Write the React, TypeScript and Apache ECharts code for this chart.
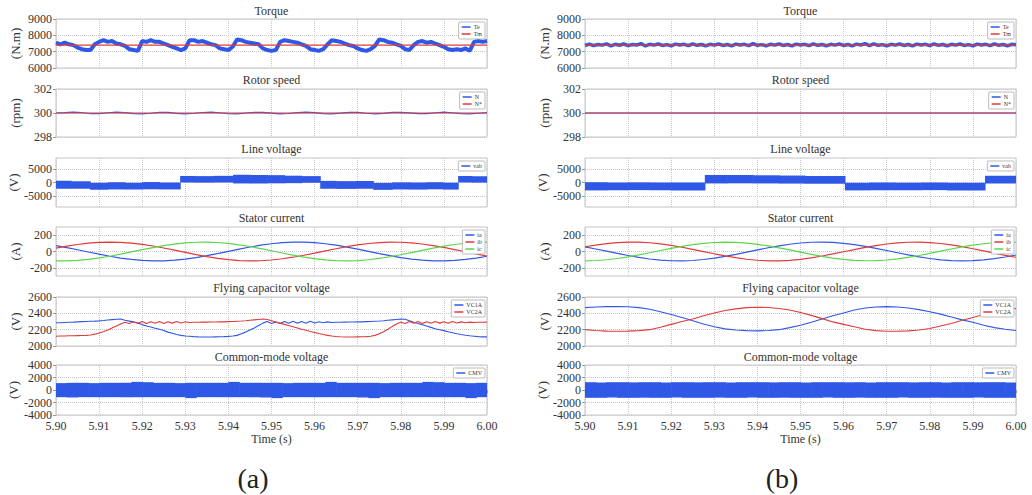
import React, { useEffect, useRef } from "react";
import * as echarts from "echarts";

const FONT = "Liberation Serif, Times New Roman, serif";
const BLUE = "#2f58e6";
const RED = "#e03a3a";
const GREEN = "#5ad64a";
const TEXT = "#333";

const T_START = 5.9;
const T_END = 6.0;

// ---- Row definitions ----
const rowTitles = ["Torque", "Rotor speed", "Line voltage", "Stator current", "Flying capacitor voltage", "Common-mode voltage"];
const rowUnits = ["(N.m)", "(rpm)", "(V)", "(A)", "(V)", "(V)"];
const rowMin = [6000, 298, -9000, -300, 2000, -4000];
const rowMax = [9000, 302, 9000, 300, 2600, 4000];
const rowTicks = [
  [6000, 7000, 8000, 9000],
  [298, 300, 302],
  [-5000, 0, 5000],
  [-200, 0, 200],
  [2000, 2200, 2400, 2600],
  [-4000, -2000, 0, 2000, 4000],
];
const rowLegends = [["Te", "Tm"], ["N", "N*"], ["vab"], ["ia", "ib", "ic"], ["VC1A", "VC2A"], ["CMV"]];

// ---- (a) data ----
const torqueA_Te = [
  7550, 7450, 7550, 7450, 7400, 7250, 7150, 7100, 7100, 7450,
  7600, 7700, 7600, 7650, 7500, 7450, 7350, 7150, 7100, 7050,
  7650, 7600, 7700, 7600, 7600, 7500, 7400, 7300, 7200, 7100,
  7200, 7700, 7700, 7600, 7650, 7550, 7450, 7400, 7200, 7150,
  7100, 7300, 7750, 7700, 7600, 7550, 7500, 7450, 7200, 7100,
  7050, 7100, 7600, 7700, 7650, 7600, 7550, 7450, 7350, 7150,
  7100, 7050, 7150, 7450, 7700, 7650, 7600, 7500, 7400, 7350,
  7200, 7100, 7050, 7150, 7350, 7750, 7700, 7600, 7550, 7450,
  7350, 7150, 7100, 7400, 7600, 7650, 7550, 7600, 7500, 7400,
  7300, 7150, 7100, 7150, 7100, 7200, 7050, 7600, 7650, 7600,
  7650,
];
const torqueA_Tm = [7400, 7400];
const speedA_N = [
  300.0, 300.03, 300.07, 300.04, 299.94, 299.95, 300.02, 300.07, 300.03, 299.94,
  299.93, 299.98, 300.05, 300.05, 299.97, 299.93, 299.98, 300.04, 300.07, 300.02,
  299.95, 299.93, 300.0, 300.06, 300.06, 299.99, 299.93, 299.96, 300.03, 300.07,
  300.03, 299.95, 299.93, 299.99, 300.06, 300.05, 299.98, 299.93, 299.97, 300.05,
  300.06, 300.01, 299.94, 299.94, 300.02, 300.07, 300.02, 299.95, 299.93, 299.98,
  300.03,
];
const speedA_Nref = [300, 300];
const vabA_edges = [5.9, 5.9035, 5.9079, 5.912, 5.916, 5.92, 5.924, 5.9288, 5.932, 5.9365, 5.9411, 5.945, 5.949, 5.953, 5.957, 5.9613, 5.965, 5.9695, 5.9736, 5.978, 5.982, 5.986, 5.9898, 5.9933, 5.9965, 6.0];
const vabA_hi = [600, 500, -100, 100, -50, 150, 0, 2400, 2350, 2450, 2850, 2800, 2700, 2500, 2350, 600, 500, 550, -150, 50, 0, 100, -50, 2400, 2300];
const vabA_lo = [-2300, -2250, -2650, -2550, -2600, -2500, -2550, 0, -50, 0, -350, -400, -300, -250, -100, -2300, -2350, -2300, -2700, -2550, -2600, -2500, -2600, 0, -50];
const iaA = [71, 47, 21, -6, -33, -58, -80, -97, -109, -115, -114, -106, -93, -74, -51, -25, 2, 29, 55, 77, 95, 108, 114, 114, 108, 95, 77, 54, 29, 2, -25, -51, -74, -93, -106, -114, -115, -109, -97, -80, -58];
const ibA = [42, 66, 86, 102, 112, 115, 112, 102, 87, 67, 43, 16, -11, -38, -63, -84, -100, -111, -115, -113, -104, -89, -70, -46, -20, 7, 34, 59, 81, 98, 109, 115, 113, 106, 92, 73, 50, 24, -3, -30, -56];
const icA = [-114, -115, -109, -97, -79, -58, -32, -5, 22, 48, 71, 91, 105, 113, 115, 110, 99, 82, 61, 36, 9, -18, -44, -68, -88, -103, -112, -115, -111, -101, -85, -64, -40, -13, 14, 41, 65, 86, 101, 111, 115];
const vc1A_A = [
  2285, 2285, 2288, 2290, 2292, 2295, 2298, 2300, 2303, 2305,
  2308, 2312, 2318, 2323, 2328, 2330, 2315, 2305, 2295, 2280,
  2262, 2245, 2232, 2218, 2205, 2190, 2170, 2155, 2140, 2130,
  2122, 2120, 2115, 2112, 2110, 2110, 2110, 2112, 2113, 2115,
  2118, 2122, 2130, 2150, 2170, 2195, 2220, 2250, 2280, 2300,
  2275, 2295, 2275, 2300, 2278, 2302, 2280, 2300, 2278, 2302,
  2282, 2298, 2285, 2295, 2288, 2290, 2290, 2292, 2293, 2294,
  2295, 2296, 2298, 2300, 2303, 2306, 2310, 2315, 2320, 2325,
  2330, 2328, 2310, 2290, 2275, 2260, 2245, 2228, 2212, 2200,
  2188, 2175, 2162, 2150, 2140, 2132, 2125, 2120, 2115, 2112,
  2112,
];
const vc2A_A = [
  2120, 2122, 2123, 2125, 2125, 2127, 2128, 2130, 2135, 2145,
  2160, 2175, 2195, 2220, 2245, 2268, 2290, 2275, 2298, 2278,
  2300, 2275, 2298, 2278, 2300, 2275, 2298, 2280, 2300, 2282,
  2296, 2288, 2290, 2290, 2292, 2292, 2293, 2294, 2295, 2296,
  2298, 2300, 2303, 2306, 2310, 2315, 2320, 2325, 2330, 2325,
  2310, 2295, 2280, 2265, 2250, 2235, 2220, 2205, 2192, 2178,
  2165, 2152, 2140, 2130, 2122, 2117, 2113, 2110, 2110, 2110,
  2112, 2113, 2115, 2120, 2130, 2150, 2175, 2205, 2240, 2270,
  2290, 2275, 2300, 2278, 2300, 2276, 2298, 2278, 2300, 2280,
  2298, 2278, 2300, 2282, 2295, 2285, 2292, 2288, 2290, 2290,
  2292,
];
const cmvA_hi = [1100, 1150, 1150, 1100, 1150, 1150, 1150, 1300, 1250, 1150, 1150, 1100, 1150, 1150, 1150, 1150, 1300, 1150, 1150, 1150, 1150, 1100, 1150, 1150, 1150, 1300, 1150, 1150, 1150, 1150, 1100, 1150, 1150, 1150, 1300, 1250, 1150, 1150, 1100, 1150];
const cmvA_lo = [-1150, -1200, -1150, -1150, -1150, -1150, -1150, -1150, -1150, -1150, -1150, -1150, -1300, -1150, -1150, -1150, -1150, -1150, -1150, -1200, -1300, -1150, -1150, -1150, -1150, -1150, -1150, -1150, -1200, -1300, -1150, -1150, -1150, -1150, -1150, -1150, -1150, -1150, -1300, -1150];

// ---- (b) data ----
const torqueB_Te = [
  7380, 7460, 7370, 7440, 7400, 7480, 7360, 7450, 7390, 7470,
  7370, 7440, 7410, 7490, 7350, 7450, 7400, 7470, 7380, 7430,
  7360, 7460, 7410, 7450, 7370, 7480, 7390, 7440, 7360, 7450,
  7400, 7470, 7380, 7440, 7350, 7460, 7410, 7450, 7370, 7490,
  7390, 7430, 7360, 7450, 7400, 7470, 7380, 7440, 7350, 7460,
  7410, 7450, 7370, 7480, 7390, 7440, 7360, 7450, 7400, 7470,
  7380, 7440, 7350, 7460, 7410, 7490, 7370, 7480, 7390, 7430,
  7360, 7450, 7400, 7470, 7380, 7440, 7350, 7460, 7410, 7450,
  7370, 7480, 7390, 7440, 7360, 7450, 7400, 7470, 7380, 7430,
  7350, 7460, 7410, 7450, 7370, 7480, 7390, 7440, 7360, 7450,
  7420,
];
const torqueB_Tm = [7400, 7400];
const speedB_N = [300, 300];
const speedB_Nref = [300, 300];
const vabB_edges = [5.9, 5.905, 5.91, 5.915, 5.92, 5.9278, 5.933, 5.939, 5.945, 5.951, 5.9603, 5.966, 5.972, 5.978, 5.984, 5.9928, 6.0];
const vabB_hi = [100, 0, 50, 0, 0, 2750, 2750, 2650, 2550, 2350, -100, 0, -50, 0, -50, 2500];
const vabB_lo = [-2900, -2850, -2800, -2850, -2900, -350, -300, -350, -400, -450, -2900, -2850, -2850, -2800, -2900, -350];
const iaB = [56, 31, 4, -23, -49, -72, -92, -105, -113, -115, -110, -98, -82, -60, -35, -8, 19, 46, 69, 89, 104, 113, 115, 111, 100, 84, 63, 39, 12, -15, -42, -66, -86, -102, -112, -115, -112, -102, -87, -67, -43];
const ibB = [58, 79, 97, 109, 115, 114, 107, 93, 75, 52, 26, -1, -28, -54, -76, -95, -107, -114, -114, -108, -96, -78, -55, -30, -3, 24, 50, 73, 92, 106, 113, 115, 109, 98, 81, 59, 34, 7, -20, -47, -70];
const icB = [-114, -110, -101, -86, -66, -42, -15, 12, 38, 63, 84, 99, 110, 114, 111, 103, 88, 68, 45, 19, -8, -35, -60, -81, -97, -108, -113, -112, -104, -91, -71, -49, -23, 4, 31, 56, 78, 95, 107, 114, 113];
const vc1A_B = [2470, 2478, 2482, 2484, 2480, 2470, 2450, 2420, 2385, 2350, 2310, 2270, 2235, 2210, 2195, 2188, 2185, 2190, 2200, 2225, 2255, 2290, 2330, 2370, 2405, 2440, 2465, 2478, 2482, 2478, 2465, 2445, 2420, 2390, 2355, 2320, 2290, 2255, 2225, 2205, 2190];
const vc2A_B = [2200, 2190, 2182, 2180, 2182, 2188, 2200, 2230, 2265, 2300, 2330, 2370, 2405, 2435, 2455, 2470, 2475, 2472, 2460, 2440, 2410, 2375, 2335, 2295, 2265, 2235, 2205, 2188, 2180, 2180, 2185, 2195, 2215, 2245, 2275, 2315, 2350, 2385, 2415, 2440, 2460];
const cmvB_hi = [1250, 1200, 1250, 1250, 1220, 1250, 1250, 1200, 1250, 1250, 1230, 1250, 1250, 1200, 1250, 1250, 1250, 1220, 1250, 1250, 1200, 1250, 1250, 1250, 1230, 1250, 1200, 1250, 1250, 1250, 1220, 1250, 1250, 1200, 1250, 1250, 1230, 1250, 1250, 1200];
const cmvB_lo = [-1250, -1250, -1200, -1250, -1250, -1230, -1250, -1250, -1200, -1250, -1250, -1250, -1220, -1250, -1250, -1200, -1250, -1250, -1230, -1250, -1250, -1250, -1200, -1250, -1250, -1220, -1250, -1250, -1250, -1200, -1250, -1250, -1230, -1250, -1250, -1250, -1200, -1250, -1250, -1250];

// ---- helpers ----
const timed = (vals: number[]) =>
  vals.map((v, i) => [+(T_START + ((T_END - T_START) * i) / (vals.length - 1)).toFixed(6), v]);
const regularEdges = (n: number) =>
  Array.from({ length: n + 1 }, (_, i) => +(T_START + ((T_END - T_START) * i) / n).toFixed(6));
const bandRows = (edges: number[], lo: number[], hi: number[]) =>
  lo.map((l, i) => [edges[i], edges[i + 1], l, hi[i]]);

const COLS = [
  { left: 56, width: 431, titleX: 271.5, tag: "(a)", tagX: 253 },
  { left: 585, width: 431, titleX: 800.5, tag: "(b)", tagX: 782 },
];
const ROW_TOP = [19, 89, 158, 227, 297, 365];
const ROW_H = [49, 48, 49, 49, 49, 50];
const TITLE_TOP = [5, 74, 143, 212, 282, 351];

function lineSeries(name: string, g: number, data: number[][], color: string, width: number) {
  return {
    type: "line",
    name,
    xAxisIndex: g,
    yAxisIndex: g,
    data,
    symbol: "none",
    showSymbol: false,
    silent: true,
    lineStyle: { color, width },
    itemStyle: { color },
    clip: true,
  };
}

function bandSeries(name: string, g: number, data: number[][], color: string) {
  return {
    type: "custom",
    name,
    xAxisIndex: g,
    yAxisIndex: g,
    data,
    silent: true,
    clip: true,
    encode: { x: [0, 1], y: [2, 3] },
    itemStyle: { color },
    renderItem: (params: any, api: any) => {
      const p0 = api.coord([api.value(0), api.value(3)]);
      const p1 = api.coord([api.value(1), api.value(2)]);
      return {
        type: "rect",
        shape: { x: p0[0], y: p0[1], width: p1[0] - p0[0] + 0.6, height: p1[1] - p0[1] },
        style: { fill: api.visual("color") },
      };
    },
  };
}

function buildOption() {
  const grids: any[] = [];
  const xAxes: any[] = [];
  const yAxes: any[] = [];
  const titles: any[] = [];
  const legends: any[] = [];
  COLS.forEach((c, ci) => {
    for (let r = 0; r < 6; r++) {
      const g = ci * 6 + r;
      grids.push({
        left: c.left,
        width: c.width,
        top: ROW_TOP[r],
        height: ROW_H[r],
        show: true,
        borderColor: "#c4c4c4",
        borderWidth: 1,
        backgroundColor: "#fff",
        containLabel: false,
      });
      const bottom = r === 5;
      xAxes.push({
        type: "value",
        gridIndex: g,
        min: T_START,
        max: T_END,
        interval: 0.01,
        axisLine: { show: false },
        axisTick: { show: bottom, length: 3, lineStyle: { color: "#999" } },
        axisLabel: {
          show: bottom,
          formatter: (v: number) => v.toFixed(2),
          fontSize: 12,
          fontFamily: FONT,
          color: TEXT,
          margin: 5,
        },
        splitLine: { show: true, lineStyle: { type: "dotted", color: "#c8c8c8" } },
        name: bottom ? "Time (s)" : "",
        nameLocation: "middle",
        nameGap: 18,
        nameTextStyle: { fontSize: 12, fontFamily: FONT, color: TEXT },
      });
      yAxes.push({
        type: "value",
        gridIndex: g,
        min: rowMin[r],
        max: rowMax[r],
        axisLine: { show: false },
        axisTick: { show: true, length: 3, customValues: rowTicks[r], lineStyle: { color: "#999" } },
        axisLabel: {
          customValues: rowTicks[r],
          formatter: (v: number) => String(v),
          fontSize: 12,
          fontFamily: FONT,
          color: TEXT,
          margin: 4,
        },
        splitLine: { show: true, lineStyle: { type: "dotted", color: "#c8c8c8" } },
        name: rowUnits[r],
        nameLocation: "middle",
        nameGap: 34,
        nameTextStyle: { fontSize: 13, fontFamily: FONT, color: TEXT },
      });
      titles.push({
        text: rowTitles[r],
        left: c.titleX,
        top: TITLE_TOP[r],
        textAlign: "center",
        padding: 0,
        textStyle: { fontSize: 12, fontWeight: "normal", fontFamily: FONT, color: TEXT },
      });
      legends.push({
        data: rowLegends[r],
        orient: "vertical",
        right: 1032 - (c.left + c.width) + 2,
        top: ROW_TOP[r] + 3,
        icon: "rect",
        itemWidth: 9,
        itemHeight: 1.5,
        itemGap: 1,
        padding: [2, 3, 2, 3],
        selectedMode: false,
        borderColor: "#aaa",
        borderWidth: 0.8,
        borderRadius: 1,
        backgroundColor: "#fff",
        textStyle: { fontSize: 6, fontFamily: FONT, color: TEXT, padding: [0, 0, 0, -2] },
      });
    }
    titles.push({
      text: c.tag,
      left: c.tagX,
      top: 464,
      textAlign: "center",
      padding: 0,
      textStyle: { fontSize: 28, fontWeight: "normal", fontFamily: FONT, color: "#222" },
    });
  });

  const series: any[] = [
    // (a)
    lineSeries("Te", 0, timed(torqueA_Te), BLUE, 4),
    lineSeries("Tm", 0, timed(torqueA_Tm), RED, 1.2),
    lineSeries("N", 1, timed(speedA_N), BLUE, 1.2),
    lineSeries("N*", 1, timed(speedA_Nref), RED, 1.2),
    bandSeries("vab", 2, bandRows(vabA_edges, vabA_lo, vabA_hi), BLUE),
    lineSeries("ia", 3, timed(iaA), BLUE, 1.2),
    lineSeries("ib", 3, timed(ibA), RED, 1.2),
    lineSeries("ic", 3, timed(icA), GREEN, 1.2),
    lineSeries("VC1A", 4, timed(vc1A_A), BLUE, 1.1),
    lineSeries("VC2A", 4, timed(vc2A_A), RED, 1.1),
    bandSeries("CMV", 5, bandRows(regularEdges(cmvA_hi.length), cmvA_lo, cmvA_hi), BLUE),
    // (b)
    lineSeries("Te", 6, timed(torqueB_Te), BLUE, 3.5),
    lineSeries("Tm", 6, timed(torqueB_Tm), RED, 1.2),
    lineSeries("N", 7, timed(speedB_N), BLUE, 1.2),
    lineSeries("N*", 7, timed(speedB_Nref), RED, 1.2),
    bandSeries("vab", 8, bandRows(vabB_edges, vabB_lo, vabB_hi), BLUE),
    lineSeries("ia", 9, timed(iaB), BLUE, 1.2),
    lineSeries("ib", 9, timed(ibB), RED, 1.2),
    lineSeries("ic", 9, timed(icB), GREEN, 1.2),
    lineSeries("VC1A", 10, timed(vc1A_B), BLUE, 1.1),
    lineSeries("VC2A", 10, timed(vc2A_B), RED, 1.1),
    bandSeries("CMV", 11, bandRows(regularEdges(cmvB_hi.length), cmvB_lo, cmvB_hi), BLUE),
  ];

  return {
    animation: false,
    backgroundColor: "#fff",
    textStyle: { fontFamily: FONT },
    title: titles,
    legend: legends,
    grid: grids,
    xAxis: xAxes,
    yAxis: yAxes,
    series,
  };
}

export default function App() {
  const ref = useRef<HTMLDivElement>(null);
  useEffect(() => {
    document.body.style.margin = "0";
    if (!ref.current) return;
    const chart = echarts.init(ref.current, null, { renderer: "svg" });
    chart.setOption(buildOption() as any);
    return () => chart.dispose();
  }, []);
  return <div ref={ref} style={{ width: 1032, height: 495 }} />;
}
